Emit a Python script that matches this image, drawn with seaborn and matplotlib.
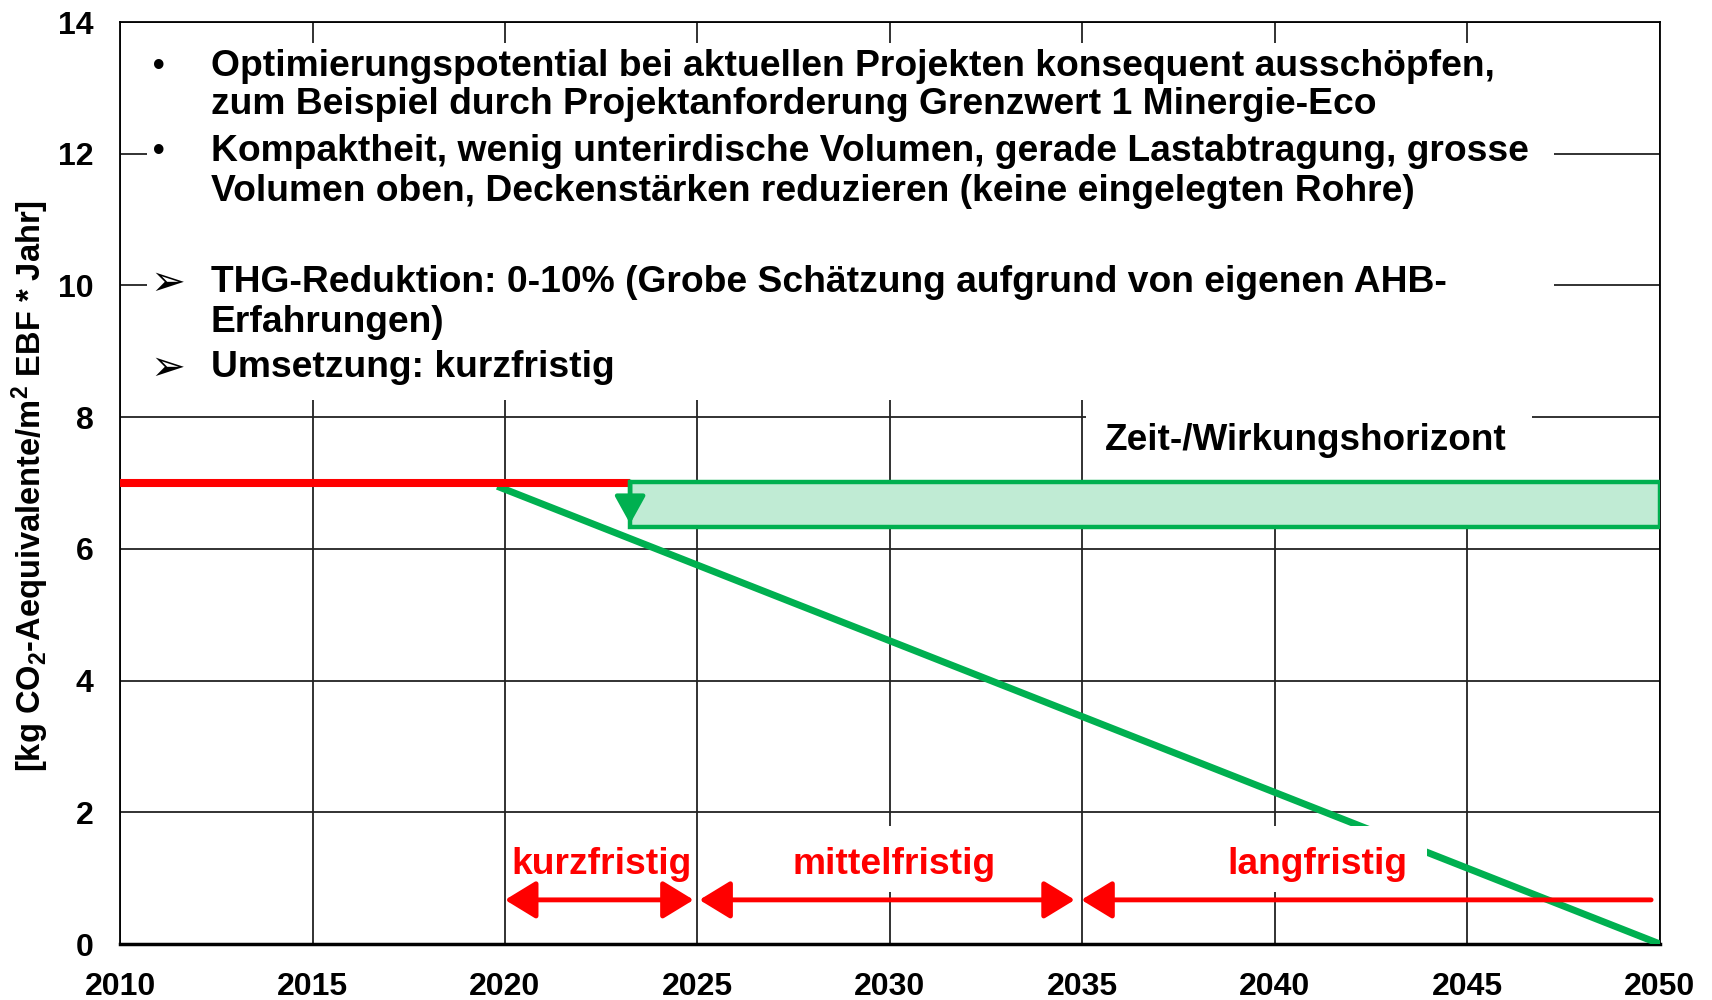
import matplotlib.pyplot as plt
import matplotlib.patches as mpatches
import seaborn as sns
import pandas as pd

# data
years_ticks = [2010, 2015, 2020, 2025, 2030, 2035, 2040, 2045, 2050]
value_ticks = [0, 2, 4, 6, 8, 10, 12, 14]

ist_x = [2010, 2023.25]          # red: current level
ist_y = [7.0, 7.0]
pfad_x = [2019.8, 2050]          # green: reduction path
pfad_y = [6.95, 0.0]
potential_x = [2023.25, 2050]    # green band: reduction potential
potential_y = [6.33, 7.02]

horizon_labels = ["kurzfristig", "mittelfristig", "langfristig"]
horizon_start = [2020.0, 2025.05, 2034.97]
horizon_end = [2024.9, 2034.8, 2049.77]
horizon_label_x = [2022.5, 2030.1, 2041.1]
horizon_y = 0.67

bullet_lines = [
    ("•", "Optimierungspotential bei aktuellen Projekten konsequent ausschöpfen,", 13.32),
    ("", "zum Beispiel durch Projektanforderung Grenzwert 1 Minergie-Eco", 12.74),
    ("•", "Kompaktheit, wenig unterirdische Volumen, gerade Lastabtragung, grosse", 12.04),
    ("", "Volumen oben, Deckenstärken reduzieren (keine eingelegten Rohre)", 11.43),
    ("➢", "THG-Reduktion: 0-10% (Grobe Schätzung aufgrund von eigenen AHB-", 10.04),
    ("", "Erfahrungen)", 9.43),
    ("➢", "Umsetzung: kurzfristig", 8.75),
]

RED = "#ff0000"
GREEN = "#00b050"
LIGHTGREEN = "#c0ebd4"

sns.set_theme(style="white")
plt.rcParams['font.family'] = ['Liberation Sans', 'DejaVu Sans']
plt.rcParams['mathtext.fontset'] = 'custom'
plt.rcParams['mathtext.bf'] = 'Liberation Sans:bold'
plt.rcParams['mathtext.rm'] = 'Liberation Sans:bold'
plt.rcParams['mathtext.default'] = 'bf'
for key in ['text.color', 'axes.labelcolor', 'xtick.color', 'ytick.color']:
    plt.rcParams[key] = 'black'

fig = plt.figure(figsize=(17.12, 10), dpi=100)
ax = fig.add_axes([0.0701, 0.056, 0.8995, 0.922])

ax.set_xlim(2010, 2050)
ax.set_ylim(0, 14)
ax.set_xticks(years_ticks)
ax.set_yticks(value_ticks)
ax.set_axisbelow(True)
ax.grid(True, color="#222222", lw=1.3)
ax.tick_params(length=0, labelsize=23)
ax.tick_params(axis="x", pad=20)
ax.tick_params(axis="y", pad=19)
for lab in ax.get_xticklabels() + ax.get_yticklabels():
    lab.set_fontweight("bold")
for s in ax.spines.values():
    s.set_color("black")
    s.set_linewidth(1.3)
ax.spines["bottom"].set_linewidth(2.5)

ax.set_ylabel("[kg CO$_2$-Aequivalente/m$^2$ EBF * Jahr]", fontsize=23.5,
              fontweight="bold")
ax.yaxis.set_label_coords(-0.045, 0.497)

# white areas hiding the grid behind the texts
masks = [
    (2010.7, 8.26, 36.55, 5.42),
    (2035.1, 6.99, 11.57, 1.30),
    (2027.2, 0.79, 5.8, 1.0),
    (2038.2, 0.79, 5.75, 1.0),
]
mask_patches = []
for x0, y0, w, h in masks:
    p = mpatches.Rectangle((x0, y0), w, h, facecolor="white",
                           edgecolor="none", zorder=1)
    ax.add_patch(p)
    mask_patches.append(p)
# the "langfristig" mask also hides part of the green line
mask_patches[3].set_zorder(3.5)

# reduction potential band
ax.fill_between(potential_x, potential_y[0], potential_y[1], color=LIGHTGREEN,
                zorder=2, lw=0)
ax.add_patch(mpatches.Rectangle((potential_x[0], potential_y[0]),
                                potential_x[1] - potential_x[0],
                                potential_y[1] - potential_y[0],
                                facecolor="none", edgecolor=GREEN, lw=3.2,
                                zorder=4))

sns.lineplot(x=pfad_x, y=pfad_y, color=GREEN, lw=5, ax=ax, zorder=3)
sns.lineplot(x=ist_x, y=ist_y, color=RED, lw=5.8, ax=ax, zorder=3)
for ln in ax.lines:
    ln.set_solid_capstyle("butt")

# green down arrow
ax.annotate("", xy=(potential_x[0], 6.38), xytext=(potential_x[0], 7.02),
            arrowprops=dict(arrowstyle="-|>,head_length=0.85,head_width=0.47",
                            mutation_scale=20, color=GREEN, lw=3.2,
                            shrinkA=0, shrinkB=0), zorder=5)

# horizon arrows
for i, (x0, x1) in enumerate(zip(horizon_start, horizon_end)):
    style = "<|-|>" if i < 2 else "-|>"
    ax.annotate("", xy=(x0, horizon_y), xytext=(x1, horizon_y),
                arrowprops=dict(arrowstyle=style + ",head_length=0.95,head_width=0.58",
                                mutation_scale=20, color=RED, lw=3.5,
                                shrinkA=0, shrinkB=0), zorder=5)
for lab, x in zip(horizon_labels, horizon_label_x):
    ax.text(x, 1.21, lab, color=RED, fontsize=26.8, fontweight="bold",
            ha="center", va="center", zorder=6)

ax.text(2040.8, 7.65, "Zeit-/Wirkungshorizont", fontsize=26.6, fontweight="bold",
        ha="center", va="center", zorder=6)

for sym, txt, y in bullet_lines:
    if sym == "•":
        ax.text(2011.0, y, sym, fontsize=24, fontweight="bold", ha="center",
                va="center", zorder=6)
    elif sym:
        ax.text(2010.8, y, sym, fontsize=30, family=['DejaVu Sans'],
                ha="left", va="center", zorder=6)
    ax.text(2012.36, y, txt, fontsize=26.8, fontweight="bold", ha="left",
            va="center", zorder=6)

fig.savefig("out.png", dpi=100)
plt.close(fig)
